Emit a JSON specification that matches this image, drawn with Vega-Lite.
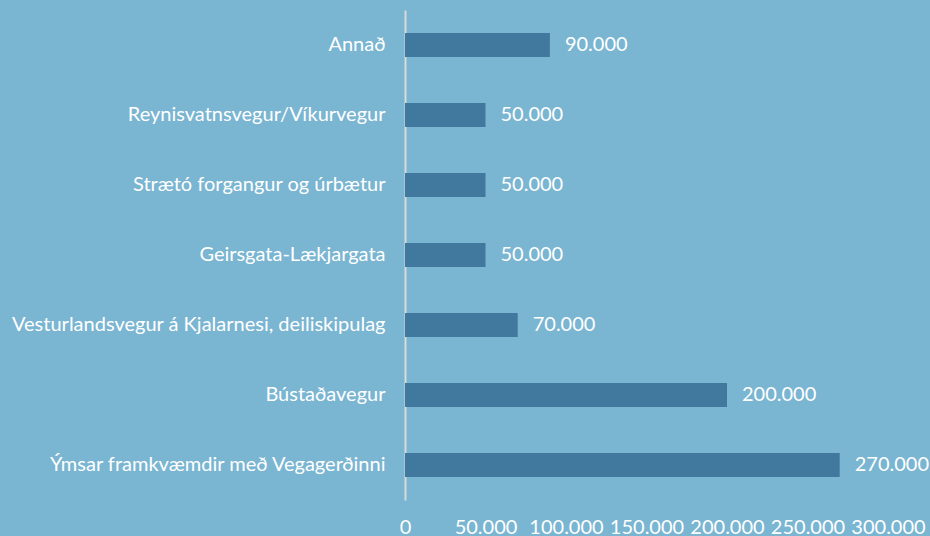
{
  "$schema": "https://vega.github.io/schema/vega-lite/v6.json",
  "width": 483,
  "height": 490,
  "autosize": "none",
  "padding": {"left": 405, "top": 10, "right": 42, "bottom": 36},
  "background": "#7ab5d2",
  "config": {
    "view": {"stroke": null},
    "font": "Lato",
    "locale": {"number": {"decimal": ",", "thousands": ".", "grouping": [3], "currency": ["", " kr."]}}
  },
  "data": {
    "values": [
      {"verkefni": "Annað", "upphaed": 90000, "rod": 1},
      {"verkefni": "Reynisvatnsvegur/Víkurvegur", "upphaed": 50000, "rod": 2},
      {"verkefni": "Strætó forgangur og úrbætur", "upphaed": 50000, "rod": 3},
      {"verkefni": "Geirsgata-Lækjargata\u2002", "upphaed": 50000, "rod": 4},
      {"verkefni": "Vesturlandsvegur á Kjalarnesi, deiliskipulag", "upphaed": 70000, "rod": 5},
      {"verkefni": "Bústaðavegur", "upphaed": 200000, "rod": 6},
      {"verkefni": "Ýmsar framkvæmdir með Vegagerðinni\u2002", "upphaed": 270000, "rod": 7}
    ]
  },
  "encoding": {
    "y": {
      "field": "verkefni",
      "type": "nominal",
      "sort": {"field": "rod", "order": "ascending"},
      "scale": {"paddingInner": 0, "paddingOuter": 0},
      "axis": {
        "title": null,
        "ticks": false,
        "domainColor": "#d9d9d9",
        "domainWidth": 2,
        "labelColor": "#ffffff",
        "labelFontSize": 20,
        "labelPadding": 20,
        "labelLimit": 420
      }
    },
    "x": {
      "field": "upphaed",
      "type": "quantitative",
      "scale": {"domain": [0, 300000], "nice": false},
      "axis": {
        "title": null,
        "format": ",d",
        "values": [0, 50000, 100000, 150000, 200000, 250000, 300000],
        "grid": false,
        "ticks": false,
        "domain": false,
        "labelColor": "#ffffff",
        "labelFontSize": 20,
        "labelPadding": 17,
        "labelFlush": false
      }
    }
  },
  "layer": [
    {"mark": {"type": "bar", "height": 24, "color": "#41799e"}},
    {
      "mark": {"type": "text", "align": "left", "dx": 15, "fontSize": 20, "color": "#ffffff"},
      "encoding": {"text": {"field": "upphaed", "type": "quantitative", "format": ",d"}}
    }
  ]
}
